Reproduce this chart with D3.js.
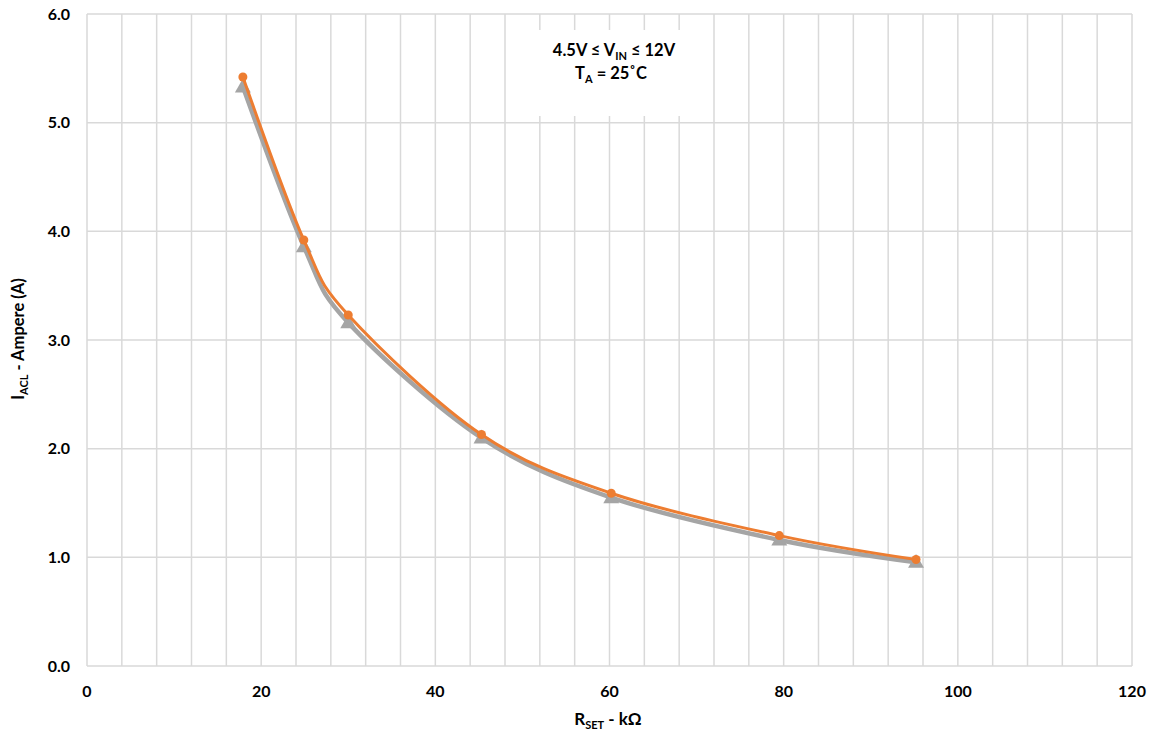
<!DOCTYPE html>
<html><head><meta charset="utf-8">
<script src="https://cdn.jsdelivr.net/npm/d3@7"></script>
<style>body{margin:0;background:#fff;} text{font-family:Lato,"Open Sans",sans-serif;font-weight:bold;fill:#000;}</style>
</head><body><svg id="c" width="1153" height="735"></svg>
<script>
const rset = [17.9, 24.9, 30.0, 45.3, 60.2, 79.5, 95.2];
const iaclA = [5.42, 3.92, 3.23, 2.13, 1.59, 1.20, 0.98];
const iaclB = [5.33, 3.86, 3.16, 2.10, 1.55, 1.16, 0.955];
const xTicks = [0, 20, 40, 60, 80, 100, 120];
const yTicks = [0, 1, 2, 3, 4, 5, 6];
const xGrid = d3.range(0, 121, 4);

const svg = d3.select("#c");
const L = 87, R = 1132, T = 14, B = 666;
const x = d3.scaleLinear().domain([0, 120]).range([L, R]);
const y = d3.scaleLinear().domain([0, 6]).range([B, T]);

const g = svg.append("g");
g.selectAll(".vg").data(xGrid).join("line")
  .attr("x1", d => x(d)).attr("x2", d => x(d)).attr("y1", T).attr("y2", B)
  .attr("stroke", "#d9d9d9").attr("stroke-width", 1.5);
g.selectAll(".hg").data(yTicks).join("line")
  .attr("x1", L).attr("x2", R).attr("y1", d => y(d)).attr("y2", d => y(d))
  .attr("stroke", "#d9d9d9").attr("stroke-width", 1.5);

// annotation box
svg.append("rect").attr("x", 516).attr("y", 30).attr("width", 192).attr("height", 86).attr("fill", "#fff");
const ann = svg.append("text").attr("text-anchor", "middle").attr("font-size", 16.5);
const t1 = ann.append("tspan").attr("x", 614).attr("y", 56);
t1.append("tspan").text("4.5V ≤ V");
t1.append("tspan").attr("font-size", 11).attr("dy", 4).text("IN");
t1.append("tspan").attr("dy", -4).text(" ≤ 12V");
const t2 = svg.append("text").attr("text-anchor", "middle").attr("font-size", 16.5).attr("x", 611).attr("y", 79);
t2.append("tspan").text("T");
t2.append("tspan").attr("font-size", 11).attr("dy", 4).text("A");
t2.append("tspan").attr("dy", -4).text(" = 25˚C");

// tick labels
svg.selectAll(".xl").data(xTicks).join("text")
  .attr("x", d => x(d)).attr("y", 697).attr("text-anchor", "middle").attr("font-size", 16).text(d => d);
svg.selectAll(".yl").data(yTicks).join("text")
  .attr("x", 70).attr("y", d => y(d) + 5.5).attr("text-anchor", "end").attr("font-size", 16).text(d => d.toFixed(1));

// axis titles
const xt = svg.append("text").attr("x", 608).attr("y", 725).attr("text-anchor", "middle").attr("font-size", 17);
xt.append("tspan").text("R");
xt.append("tspan").attr("font-size", 11).attr("dy", 4).text("SET");
xt.append("tspan").attr("dy", -4).text(" - kΩ");
const yt = svg.append("text").attr("transform", "translate(24,339) rotate(-90)").attr("text-anchor", "middle").attr("font-size", 16.5);
yt.append("tspan").text("I");
yt.append("tspan").attr("font-size", 11).attr("dy", 4).text("ACL");
yt.append("tspan").attr("dy", -4).text(" - Ampere (A)");

const line = d3.line().curve(d3.curveCatmullRom.alpha(0)).x(d => x(d[0])).y(d => y(d[1]));
const dB = rset.map((v, i) => [v, iaclB[i]]);
const dA = rset.map((v, i) => [v, iaclA[i]]);

svg.append("path").datum(dB).attr("d", line).attr("fill", "none").attr("stroke", "#a5a5a5").attr("stroke-width", 4.5);
const tri = d3.symbol().type(d3.symbolTriangle).size(110);
svg.selectAll(".tb").data(dB).join("path").attr("d", tri)
  .attr("transform", d => `translate(${x(d[0])},${y(d[1]) + 1})`).attr("fill", "#a5a5a5");

svg.append("path").datum(dA).attr("d", line).attr("fill", "none").attr("stroke", "#ed7d31").attr("stroke-width", 3);
svg.selectAll(".ca").data(dA).join("circle")
  .attr("cx", d => x(d[0])).attr("cy", d => y(d[1])).attr("r", 4.5).attr("fill", "#ed7d31");
</script></body></html>
